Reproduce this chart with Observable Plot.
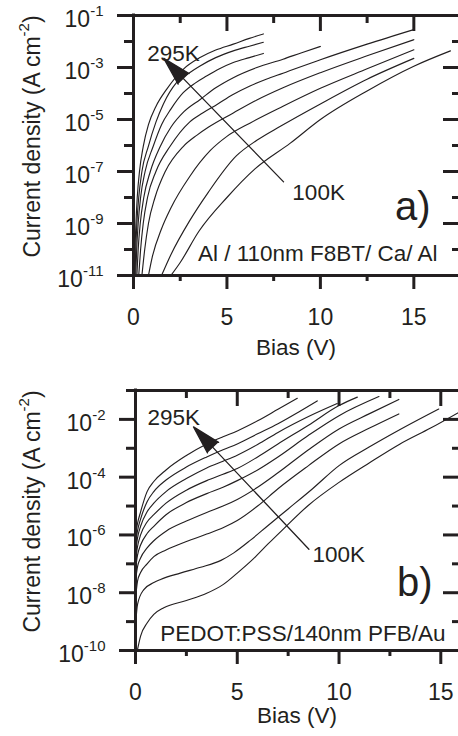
<!DOCTYPE html>
<html><head><meta charset="utf-8">
<script src="https://cdn.jsdelivr.net/npm/d3@7"></script>
<script src="https://cdn.jsdelivr.net/npm/@observablehq/plot@0.6"></script>
<style>
html,body{margin:0;padding:0;background:#fff;overflow:hidden;}
#chart svg{display:block;}
</style></head><body><div id="chart"></div>
<script>
// ---------- DATA (bias V, log10 current density A/cm^2) ----------
// Panel a) Al / 110nm F8BT / Ca / Al : 295K (a1) ... 100K (a9)
const a1 = [[0.05,-11],[0.08,-10],[0.13,-9],[0.2,-8],[0.32,-7],[0.52,-6.04],[0.8,-5.2],[1.2,-4.5],[1.77,-3.84],[2.66,-3.07],[3.56,-2.62],[4.4,-2.33],[5.34,-2.1],[6.2,-1.88],[6.95,-1.71]];
const a2 = [[0.08,-11],[0.12,-10],[0.18,-9],[0.28,-8],[0.45,-7],[0.79,-6.04],[1.2,-5.1],[1.6,-4.4],[2.3,-3.58],[3.0,-3.2],[3.56,-2.94],[4.4,-2.62],[5.34,-2.36],[6.2,-2.18],[6.95,-2.03]];
const a3 = [[0.12,-11],[0.17,-10],[0.25,-9],[0.38,-8],[0.62,-7],[1.05,-6.04],[1.5,-5.2],[2.0,-4.6],[2.66,-3.97],[3.3,-3.6],[3.91,-3.33],[4.6,-3.05],[5.34,-2.81],[6.2,-2.62],[6.95,-2.46]];
const a4 = [[0.18,-11],[0.25,-10],[0.36,-9],[0.55,-8],[0.9,-7],[1.43,-6.04],[2.0,-5.3],[2.7,-4.7],[3.57,-4.23],[4.4,-3.78],[5.34,-3.39],[6.6,-3.0],[8.0,-2.68],[9.0,-2.43],[10,-2.19]];
const a5 = [[0.28,-11],[0.38,-10],[0.52,-9],[0.75,-8],[1.2,-7],[1.95,-6.04],[3.0,-5.1],[3.7,-4.75],[4.47,-4.42],[5.3,-4.05],[6.23,-3.71],[7.1,-3.45],[8.0,-3.22],[10,-2.7],[12.5,-2.1],[15,-1.54]];
const a6 = [[0.45,-11],[0.6,-10],[0.8,-9],[1.15,-8],[1.7,-7],[2.66,-6.04],[3.4,-5.6],[4.0,-5.3],[5.34,-4.75],[6.6,-4.25],[8.0,-3.78],[10,-3.2],[12.5,-2.55],[15,-1.93]];
const a7 = [[0.8,-11],[1.0,-10.3],[1.5,-9.2],[2.0,-8.4],[3.0,-7.2],[4.1,-6.2],[5.0,-5.65],[6.25,-5.13],[8.0,-4.49],[10,-3.8],[12.5,-3.05],[15,-2.32]];
const a8 = [[1.5,-11],[2.0,-10.2],[3.0,-8.9],[4.0,-7.8],[5.5,-6.4],[6.6,-5.8],[7.86,-5.26],[10,-4.4],[12.5,-3.45],[15,-2.65]];
const a9 = [[2.0,-11],[2.5,-10.5],[3.5,-9.3],[5.0,-8.0],[6.5,-6.9],[8.39,-5.91],[10,-5.0],[12.5,-3.9],[15,-2.95],[16.96,-2.36]];

// Panel b) PEDOT:PSS / 140nm PFB / Au : 295K (b1) ... 100K (b9)
const b1 = [[0,-6.0],[0.1,-5.6],[0.25,-5.2],[0.57,-4.5],[0.9,-4.15],[1.5,-3.75],[2.5,-3.25],[3.5,-2.85],[4.3,-2.6],[5.0,-2.4],[6.0,-2.05],[7.0,-1.65],[7.95,-1.27]];
const b2 = [[0,-6.3],[0.1,-5.85],[0.25,-5.45],[0.57,-4.85],[0.9,-4.5],[1.5,-4.1],[2.5,-3.65],[3.5,-3.3],[4.3,-3.05],[5.0,-2.85],[6.0,-2.5],[7.0,-2.15],[8.0,-1.75],[8.93,-1.36]];
const b3 = [[0,-6.6],[0.1,-6.1],[0.25,-5.7],[0.57,-5.2],[0.9,-4.9],[1.5,-4.5],[2.5,-4.05],[3.5,-3.68],[4.3,-3.45],[5.0,-3.24],[6.0,-2.87],[7.0,-2.45],[8.5,-1.9],[9.91,-1.45]];
const b4 = [[0,-6.9],[0.1,-6.4],[0.25,-6.0],[0.57,-5.55],[0.9,-5.3],[1.5,-4.9],[2.5,-4.45],[3.5,-4.12],[4.3,-3.9],[5.0,-3.7],[6.0,-3.3],[7.0,-2.85],[8.5,-2.2],[10,-1.52],[10.9,-1.23]];
const b5 = [[0,-7.2],[0.1,-6.7],[0.25,-6.35],[0.57,-5.95],[0.9,-5.7],[1.5,-5.3],[2.5,-4.88],[3.5,-4.57],[4.3,-4.35],[5.0,-4.12],[6.0,-3.75],[7.0,-3.3],[8.5,-2.55],[10,-1.87],[11.96,-1.21]];
const b6 = [[0,-7.6],[0.1,-7.1],[0.25,-6.8],[0.57,-6.45],[0.9,-6.2],[1.5,-5.87],[2.5,-5.52],[3.5,-5.22],[4.3,-5.0],[5.0,-4.77],[6.0,-4.35],[7.0,-3.85],[8.5,-3.05],[10,-2.33],[11.5,-1.8],[12.94,-1.31]];
const b7 = [[0,-8.2],[0.1,-7.6],[0.25,-7.3],[0.57,-7.0],[0.9,-6.75],[1.5,-6.52],[2.5,-6.23],[3.5,-5.97],[4.3,-5.75],[5.0,-5.5],[6.0,-5.0],[7.0,-4.4],[8.5,-3.6],[10,-2.85],[11.5,-2.3],[12.94,-1.81]];
const b8 = [[0,-9.15],[0.1,-8.4],[0.4,-7.9],[0.9,-7.65],[1.23,-7.54],[2.2,-7.32],[3.2,-7.12],[4.2,-6.88],[4.83,-6.62],[5.65,-6.18],[6.5,-5.68],[7.5,-5.1],[8.7,-4.4],[10,-3.6],[11.5,-2.95],[13,-2.35],[14.9,-1.64]];
const b9 = [[0.08,-10.03],[0.25,-9.5],[0.57,-9.05],[0.9,-8.75],[1.39,-8.52],[2.5,-8.27],[3.5,-8.02],[4.3,-7.72],[5.0,-7.32],[5.8,-6.82],[6.5,-6.32],[7.3,-5.77],[8.5,-4.97],[10,-4.18],[11.5,-3.5],[13,-2.85],[14.5,-2.3],[15.9,-1.75]];

// tick values
const xMajorTicks = [0, 5, 10, 15];
const xMinorTicks = [2.5, 7.5, 12.5];
const aYMajor = [1e-1, 1e-3, 1e-5, 1e-7, 1e-9, 1e-11];
const aYMinor = [1e-2, 1e-4, 1e-6, 1e-8, 1e-10];
const bYMajor = [1e-2, 1e-4, 1e-6, 1e-8, 1e-10];
const bYMinor = [1e-1, 1e-3, 1e-5, 1e-7, 1e-9];

// annotations: [text, bias, current density, anchor]
const aNotes = [["295K", 0.73, 1.8e-3, "start"], ["100K", 8.5, 8.1e-9, "start"], ["Al / 110nm F8BT/ Ca/ Al", 16.27, 3.5e-11, "end"]];
const aPanelTag = ["a)", 15.9, 1.35e-9];
const aArrow = {x1: 8.03, y1: 4.0e-8, x2: 1.62, y2: 2.25e-3};
const bNotes = [["295K", 0.59, 6.5e-3, "start"], ["100K", 8.7, 1.15e-7, "start"], ["PEDOT:PSS/140nm PFB/Au", 15.23, 2.1e-10, "end"]];
const bPanelTag = ["b)", 14.6, 7.6e-9];
const bArrow = {x1: 8.52, y1: 3.2e-7, x2: 2.85, y2: 5.5e-3};

const xTitle = "Bias (V)";
const yTitle = "Current density (A cm^-2)";

// ---------- RENDER ----------
const INK = "#231f20";
const FONT = "'Liberation Sans', Arial, Helvetica, sans-serif";
const W = 458, H = 368;

function panel({curves, xMax, yDomain, yMajor, yMinor, marginLeft, marginTop, marginBottom, notes, tag, arrow, xTitleDy}) {
  const plotH = H - marginTop - marginBottom;
  const plotW = W - marginLeft;
  const rows = curves.flatMap((c, k) => c.map(([v, e]) => ({curve: k, V: v, J: 10 ** e})));
  const topMajor = xMajorTicks.filter(d => d > 0 && d <= xMax);
  const noteMarks = notes.map(([t, v, j, anchor]) =>
    Plot.text([{t, v, j}], {x: "v", y: "j", text: "t", textAnchor: anchor, lineAnchor: "bottom", fontSize: 22.5, fill: INK}));
  const svg = Plot.plot({
    width: W, height: H,
    marginLeft, marginTop, marginBottom, marginRight: 0,
    style: {fontFamily: FONT, color: INK, background: "#fff", overflow: "visible"},
    x: {domain: [0, xMax], axis: null},
    y: {type: "log", domain: yDomain, axis: null},
    marks: [
      Plot.line(rows, {x: "V", y: "J", z: "curve", stroke: INK, strokeWidth: 1.15, curve: "monotone-x", clip: true}),
      // frame (left, top, bottom)
      Plot.ruleX([0], {stroke: INK, strokeWidth: 3, strokeLinecap: "square"}),
      Plot.ruleY(yDomain, {stroke: INK, strokeWidth: 3, strokeLinecap: "square"}),
      // outward ticks
      Plot.axisY({ticks: yMajor, tickSize: 16, strokeWidth: 3, tickFormat: () => ""}),
      Plot.axisY({ticks: yMinor, tickSize: 9, strokeWidth: 3, tickFormat: () => ""}),
      Plot.axisY({ticks: yMajor, tickSize: 0, tickPadding: 30, dy: 4, fontSize: 23,
        tickFormat: d => "10^" + Math.round(Math.log10(d))}),
      Plot.axisX({ticks: xMajorTicks, tickSize: 14, tickPadding: 19, strokeWidth: 3, fontSize: 23, tickFormat: d => String(d)}),
      Plot.axisX({ticks: xMinorTicks, tickSize: 6, strokeWidth: 3, tickFormat: () => ""}),
      // inward ticks (top and right)
      Plot.tickX(xMinorTicks, {x: d => d, stroke: INK, strokeWidth: 3, insetBottom: plotH - 8}),
      Plot.tickX(topMajor, {x: d => d, stroke: INK, strokeWidth: 3, insetBottom: plotH - 16}),
      Plot.tickY(yMajor, {y: d => d, stroke: INK, strokeWidth: 3, insetLeft: plotW - 15}),
      Plot.tickY(yMinor, {y: d => d, stroke: INK, strokeWidth: 3, insetLeft: plotW - 6}),
      // arrow
      Plot.arrow([arrow], {x1: "x1", y1: "y1", x2: "x2", y2: "y2", stroke: INK, fill: INK, strokeWidth: 1.3, headLength: 34, headAngle: 30}),
      ...noteMarks,
      Plot.text([tag], {x: d => d[1], y: d => d[2], text: d => d[0], textAnchor: "end", lineAnchor: "bottom", fontSize: 40, fill: INK}),
      // axis titles
      Plot.text([xTitle], {text: d => d, frameAnchor: "bottom", dy: xTitleDy, textAnchor: "middle", lineAnchor: "bottom", fontSize: 22.5, fill: INK}),
      Plot.text([yTitle], {text: d => d, frameAnchor: "left", dx: -(marginLeft - 32), dy: -9, rotate: -90, textAnchor: "middle", lineAnchor: "middle", fontSize: 23, fill: INK})
    ]
  });
  // superscripts for "10^-n" style labels
  d3.select(svg).selectAll("text").each(function () {
    const m = this.textContent.match(/^(.*?)\^(-?\d+)(.*)$/);
    if (!m) return;
    const el = d3.select(this);
    el.text(null);
    el.append("tspan").text(m[1]);
    el.append("tspan").attr("dy", -11).attr("font-size", 15).text(m[2]);
    if (m[3]) el.append("tspan").attr("dy", 11).text(m[3]);
  });
  return svg;
}

const chart = document.getElementById("chart");
chart.append(panel({
  curves: [a1, a2, a3, a4, a5, a6, a7, a8, a9], xMax: 17.39, yDomain: [1e-11, 1e-1],
  yMajor: aYMajor, yMinor: aYMinor, marginLeft: 133, marginTop: 15, marginBottom: 93,
  notes: aNotes, tag: aPanelTag, arrow: aArrow, xTitleDy: 79
}));
chart.append(panel({
  curves: [b1, b2, b3, b4, b5, b6, b7, b8, b9], xMax: 15.87, yDomain: [1e-10, 1e-1],
  yMajor: bYMajor, yMinor: bYMinor, marginLeft: 135, marginTop: 22, marginBottom: 86,
  notes: bNotes, tag: bPanelTag, arrow: bArrow, xTitleDy: 72
}));
</script></body></html>
